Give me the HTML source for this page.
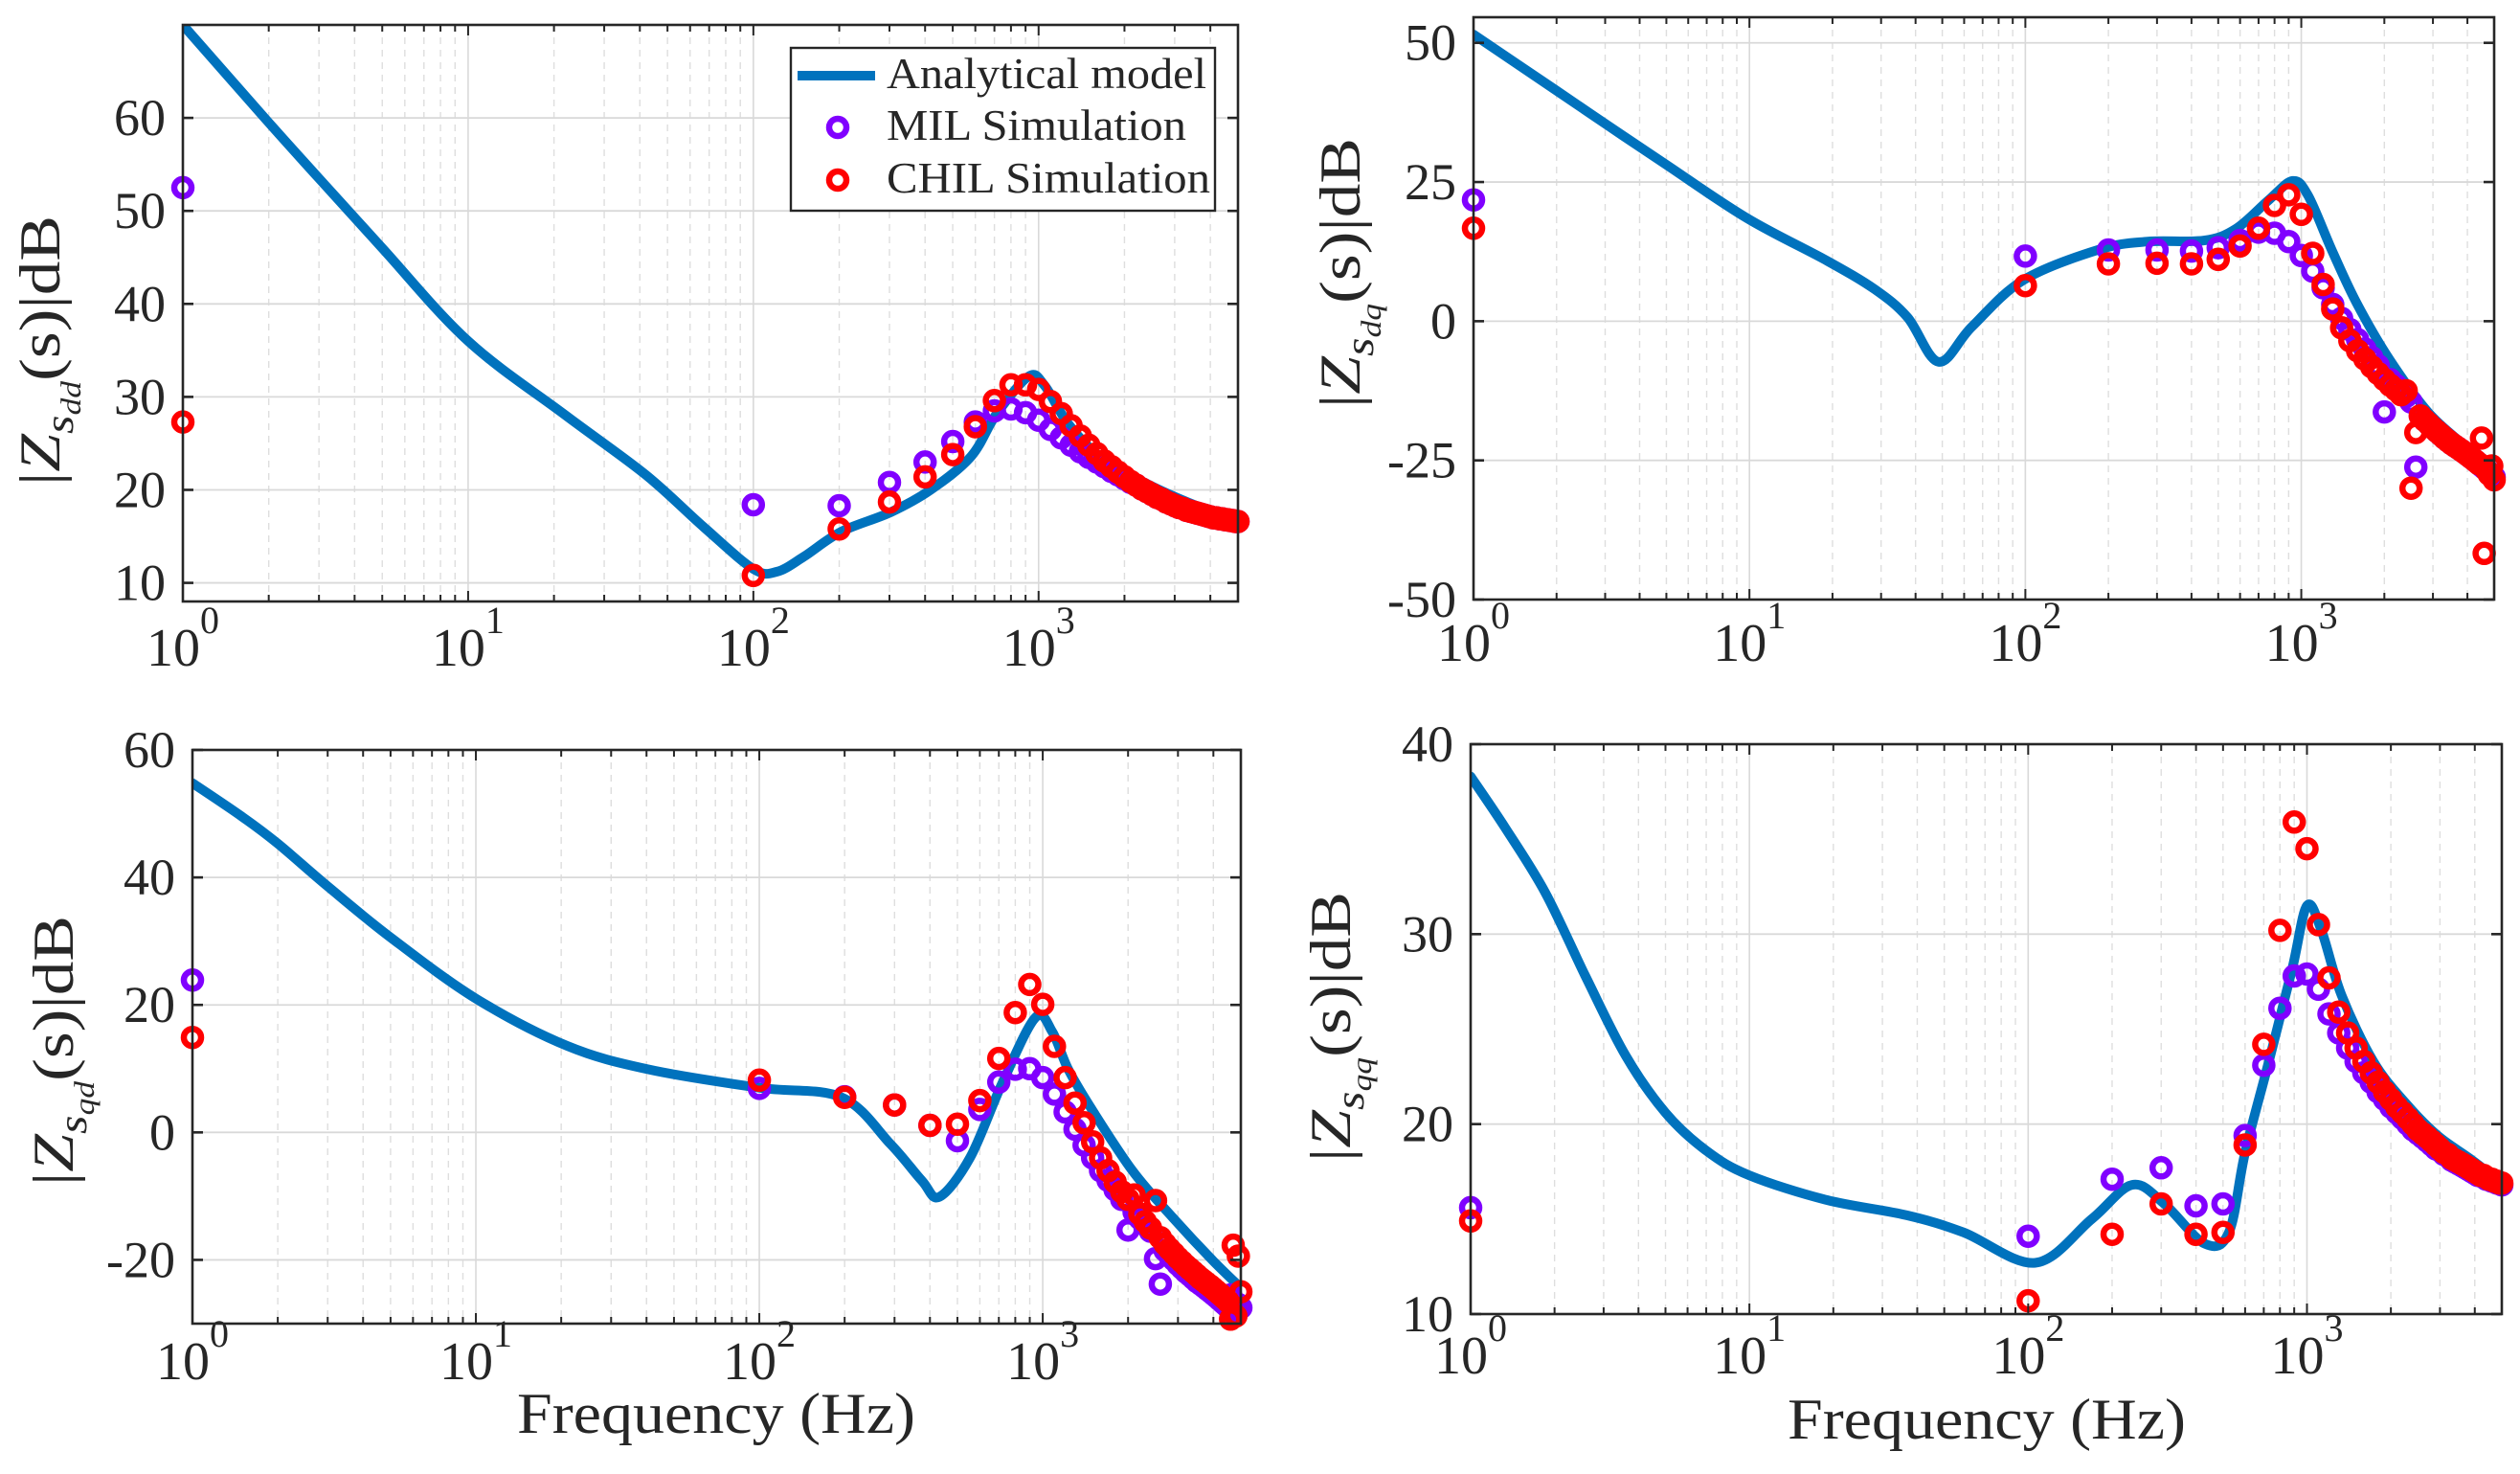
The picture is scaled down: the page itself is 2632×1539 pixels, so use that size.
<!DOCTYPE html>
<html><head><meta charset="utf-8"><style>
html,body{margin:0;padding:0;background:#fff;}
svg{display:block;}
text{font-family:"Liberation Serif",serif;fill:#262626;}
</style></head><body>
<svg id="fig" width="2632" height="1539" viewBox="0 0 2632 1539" xmlns="http://www.w3.org/2000/svg">
<rect x="0" y="0" width="2632" height="1539" fill="#fff"/>
</svg>
<script>
// measurement frequencies (Hz)
const measFreq = [1,100,200,300,400,500,600,700,800,900,1000,1100,1200,1300,1400,1500,1600,1700,1800,1900,2000,2100,2200,2300,2400,2500,2600,2700,2800,2900,3000,3100,3200,3300,3400,3500,3600,3700,3800,3900,4000,4100,4200,4300,4400,4500,4600,4700,4800,4900,5000];

// Panel 1: Z_sdd
const sddCurveF = [1,2,3,5,10,22,42,67,100,121,150,203,303,418,580,710,923,1050,1270,1640,2420,3570,5000];
const sddCurveDb = [70,59.5,53.5,46,36,28,21.6,16,11.5,11.2,12.8,15.5,17.6,20,23.6,28.1,32.2,31.2,27.1,23.6,20.6,18.3,16.8];
const sddMil = [52.5,18.4,18.3,20.8,23.0,25.2,27.3,28.5,28.7,28.3,27.5,26.5,25.6,24.8,24.1,23.5,23.0,22.5,22.0,21.6,21.2,20.8,20.5,20.1,19.8,19.5,19.2,19.0,18.7,18.5,18.3,18.1,18.0,17.8,17.7,17.6,17.5,17.4,17.3,17.2,17.1,17.0,17.0,16.9,16.9,16.8,16.8,16.7,16.7,16.6,16.6];
const sddChil = [27.3,10.8,15.8,18.7,21.4,23.8,26.8,29.6,31.3,31.3,30.8,29.5,28.2,26.9,25.8,24.8,23.9,23.1,22.5,21.9,21.4,20.9,20.5,20.1,19.8,19.5,19.2,19.0,18.7,18.5,18.3,18.1,18.0,17.8,17.7,17.6,17.5,17.4,17.3,17.2,17.1,17.0,17.0,16.9,16.9,16.8,16.8,16.7,16.7,16.6,16.6];
const sddTicks = [10,20,30,40,50,60];

// Panel 2: Z_sdq
const sdqCurveF = [1,2,3.1,5,9.8,19.2,28.5,37.4,48.5,64,98.5,186,278,445,580,760,930,1060,1300,1590,2090,2900,4000,5000];
const sdqCurveDb = [51.5,41.4,35,28.1,18.5,10.8,5.7,0.7,-7.3,-1,7.4,12.9,14.3,14.5,16.6,21.7,25.2,22.5,12.4,3.2,-6.9,-16.5,-22.8,-27.5];
const sdqMil = [21.8,11.7,12.8,12.8,12.6,13.2,14.5,16.0,15.8,14.3,11.8,9.0,6.0,3.0,0.5,-1.5,-3.3,-5.0,-6.5,-8.0,-16.3,-10.5,-11.5,-12.5,-13.5,-14.5,-26.2,-17.0,-17.8,-18.5,-19.2,-19.8,-20.4,-21.0,-21.5,-22.0,-22.4,-22.8,-23.2,-23.6,-24.0,-24.4,-24.8,-25.2,-25.6,-26.0,-26.4,-26.8,-27.2,-27.6,-28.0];
const sdqChil = [16.7,6.4,10.3,10.4,10.3,11.1,13.5,16.7,20.8,22.7,19.2,12.2,6.6,2.2,-1.2,-3.5,-5.3,-6.8,-8.2,-9.4,-10.5,-11.5,-12.3,-13.2,-12.5,-30.0,-20.0,-17.0,-17.8,-18.5,-19.2,-19.8,-20.4,-21.0,-21.5,-22.0,-22.4,-22.8,-23.2,-23.6,-24.0,-24.4,-24.8,-25.2,-25.6,-21.0,-41.7,-26.8,-27.5,-26.0,-28.5];
const sdqTicks = [-50,-25,0,25,50];

// Panel 3: Z_sqd
const sqdCurveF = [1,1.5,2,3,5,10,20.9,40.4,100,195,290,375,432,555,719,942,1080,1230,1500,2080,2880,3960,5000];
const sqdCurveDb = [54.8,49.5,45.3,38.6,30.6,21,13.6,9.9,7.0,5.5,-1.8,-7.6,-10.1,-3.9,7.7,18,15.8,9.9,3.4,-6.1,-13.4,-20,-24.4];
const sqdMil = [23.9,6.9,5.6,4.3,1.1,-1.3,3.6,7.9,9.9,10.0,8.6,6.0,3.2,0.5,-2.0,-4.0,-6.0,-7.5,-9.0,-10.5,-15.3,-12.5,-13.5,-14.5,-15.5,-19.8,-23.8,-18.5,-19.3,-20.0,-20.7,-21.3,-21.9,-22.4,-22.9,-23.4,-23.8,-24.2,-24.6,-25.0,-25.4,-25.8,-26.2,-26.6,-27.0,-27.4,-25.5,-27.5,-28.0,-27.0,-27.5];
const sqdChil = [14.9,8.2,5.5,4.3,1.1,1.3,5.0,11.6,18.8,23.2,20.1,13.5,8.6,4.6,1.5,-1.5,-4.0,-6.0,-7.8,-9.3,-10.5,-9.8,-12.8,-14.0,-15.0,-10.7,-16.5,-17.5,-18.3,-19.0,-19.7,-20.3,-20.9,-21.4,-21.9,-22.4,-22.9,-23.3,-23.7,-24.1,-24.5,-24.9,-25.3,-25.7,-26.1,-26.5,-29.3,-17.7,-28.8,-19.4,-25.0];
const sqdTicks = [-20,0,20,40,60];

// Panel 4: Z_sqq
const sqqCurveF = [1,1.33,1.85,2.58,3.6,5,7,10,19,36.7,58.6,106,169,236,308,430,525,600,730,886,1000,1127,1330,1730,2260,2940,3830,4900];
const sqqCurveDb = [38.3,35.6,32.2,27.8,23.6,20.6,18.6,17.3,16.0,15.2,14.3,12.7,15,16.8,15.8,13.7,14.3,18.5,23.3,28.2,31.5,30.2,26.8,23.3,21.1,19.4,18.2,17];
const sqqMil = [15.6,14.1,17.1,17.7,15.7,15.8,19.4,23.1,26.1,27.8,27.9,27.1,25.8,24.8,24.0,23.3,22.7,22.2,21.7,21.3,20.9,20.6,20.3,20.0,19.7,19.5,19.3,19.1,18.9,18.7,18.6,18.4,18.3,18.1,18.0,17.9,17.8,17.7,17.6,17.5,17.4,17.3,17.3,17.2,17.1,17.1,17.0,17.0,16.9,16.9,16.8];
const sqqChil = [14.9,10.7,14.2,15.8,14.2,14.3,18.9,24.2,30.2,35.9,34.5,30.5,27.7,25.9,24.8,24.0,23.3,22.7,22.2,21.7,21.3,20.9,20.6,20.3,20.0,19.7,19.5,19.3,19.1,18.9,18.7,18.5,18.4,18.2,18.1,18.0,17.9,17.8,17.7,17.6,17.5,17.4,17.3,17.3,17.2,17.1,17.1,17.0,17.0,16.9,16.9];
const sqqTicks = [10,20,30,40];

const decadeLabels = ['0','1','2','3'];
const seriesNames = ['Analytical model','MIL Simulation','CHIL Simulation'];

const NS = 'http://www.w3.org/2000/svg';
const svg = document.getElementById('fig');
function mk(tag, attrs, parent){
  const e = document.createElementNS(NS, tag);
  for (const k in attrs) e.setAttribute(k, attrs[k]);
  (parent||svg).appendChild(e);
  return e;
}
const BLUE='#0072BD', MILC='#8000FF', CHILC='#FF0000';
const MR=9, MSW=6.5;

function smoothPath(pts){
  let d = 'M'+pts[0][0].toFixed(1)+','+pts[0][1].toFixed(1);
  for (let i=0;i<pts.length-1;i++){
    const p0=pts[Math.max(0,i-1)], p1=pts[i], p2=pts[i+1], p3=pts[Math.min(pts.length-1,i+2)];
    const c1x=p1[0]+(p2[0]-p0[0])/6, c1y=p1[1]+(p2[1]-p0[1])/6;
    const c2x=p2[0]-(p3[0]-p1[0])/6, c2y=p2[1]-(p3[1]-p1[1])/6;
    d+=' C'+c1x.toFixed(1)+','+c1y.toFixed(1)+' '+c2x.toFixed(1)+','+c2y.toFixed(1)+' '+p2[0].toFixed(1)+','+p2[1].toFixed(1);
  }
  return d;
}

function drawPanel(cfg){
  const g = mk('g', {});
  
  
  const L=cfg.l, R=cfg.r, T=cfg.t, B=cfg.b;
  const lx = Math.log10(cfg.xmax);
  const xs = f => L + Math.log10(f)/lx*(R-L);
  const ys = v => B - (v-cfg.ymin)/(cfg.ymax-cfg.ymin)*(B-T);
  const cid = 'clip-'+cfg.name;
  const cp = mk('clipPath', {id:cid}, g);
  mk('rect', {x:L, y:T, width:R-L, height:B-T}, cp);
  const grid = mk('g', {}, g);
  
  
  for (let d=0; d<4; d++){
    for (let m=1; m<10; m++){
      const f = m*Math.pow(10,d);
      if (f>cfg.xmax) break;
      const x = xs(f);
      if (m===1){ if(d>0) mk('line',{x1:x,y1:T,x2:x,y2:B,stroke:'#d9d9d9','stroke-width':1.6},grid); }
      else mk('line',{x1:x,y1:T,x2:x,y2:B,stroke:'#dedede','stroke-width':1.4,'stroke-dasharray':'7,6'},grid);
    }
  }
  cfg.ticks.forEach(v=>{
    const y=ys(v);
    mk('line',{x1:L,y1:y,x2:R,y2:y,stroke:'#d9d9d9','stroke-width':1.8},grid);
  });
  const pts = cfg.cf.map((f,i)=>[xs(f), ys(cfg.cdb[i])]);
  const path = mk('path',{d:smoothPath(pts),fill:'none',stroke:BLUE,'stroke-width':10,'stroke-linejoin':'round','stroke-linecap':'round','clip-path':'url(#'+cid+')'},g);
  
  
  [[cfg.mil, MILC, 'mil'], [cfg.chil, CHILC, 'chil']].forEach(([arr,col,nm])=>{
    const mg = mk('g', {}, g);
    
    
    arr.forEach((v,i)=>{
      const c = mk('circle',{cx:xs(measFreq[i]).toFixed(1),cy:ys(v).toFixed(1),r:MR,fill:'none',stroke:col,'stroke-width':MSW},mg);
      
      
    });
  });
  const ax = mk('g', {}, g);
  
  
  mk('rect',{x:L,y:T,width:R-L,height:B-T,fill:'none',stroke:'#262626','stroke-width':2.6},ax);
  cfg.ticks.forEach(v=>{
    const y=ys(v);
    mk('line',{x1:L,y1:y,x2:L+11,y2:y,stroke:'#262626','stroke-width':2.6},ax);
    mk('line',{x1:R,y1:y,x2:R-11,y2:y,stroke:'#262626','stroke-width':2.6},ax);
    const t = mk('text',{x:L-18,y:y+18,'text-anchor':'end','font-size':54},ax);
    t.textContent = String(v);
    
    
  });
  for (let d=0; d<4; d++){
    for (let m=1; m<10; m++){
      const f=m*Math.pow(10,d); if(f>cfg.xmax) break;
      const x=xs(f), len = m===1?11:7;
      mk('line',{x1:x,y1:B,x2:x,y2:B-len,stroke:'#262626','stroke-width':2},ax);
      mk('line',{x1:x,y1:T,x2:x,y2:T+len,stroke:'#262626','stroke-width':2},ax);
    }
    const x = xs(Math.pow(10,d));
    const t = mk('text',{x:x-38,y:cfg.xlabY,'font-size':56},ax);
    t.textContent = '10';
    const s = mk('tspan',{'font-size':40,dy:-34},t);
    s.textContent = decadeLabels[d];
    
    
  }
  const yt = mk('text',{transform:'translate('+cfg.ytX+','+cfg.ytY+') rotate(-90)','text-anchor':'middle','font-size':60,textLength:282,lengthAdjust:'spacingAndGlyphs'},g);
  
  
  const parts = [['|',{}],['Z',{'font-style':'italic'}],['s',{'font-style':'italic','font-size':42,dy:14}],[cfg.sub,{'font-style':'italic','font-size':30,dy:8}],['(s)|dB',{dy:-22}]];
  parts.forEach(([txt,a])=>{ const sp=mk('tspan',a,yt); sp.textContent=txt; });
  if (cfg.freqX){
    const ft = mk('text',{x:cfg.freqX,y:cfg.freqY,'text-anchor':'middle','font-size':60,textLength:416,lengthAdjust:'spacingAndGlyphs'},g);
    ft.textContent = 'Frequency (Hz)';
    
    
  }
}

drawPanel({name:'zsdd', l:191, r:1293, t:26, b:628, ymin:8, ymax:70, xmax:5000, ticks:sddTicks, cf:sddCurveF, cdb:sddCurveDb, mil:sddMil, chil:sddChil, xlabY:695, ytX:62, ytY:366, sub:'dd'});
drawPanel({name:'zsdq', l:1539, r:2605, t:18, b:626, ymin:-50, ymax:54.6, xmax:5000, ticks:sdqTicks, cf:sdqCurveF, cdb:sdqCurveDb, mil:sdqMil, chil:sdqChil, xlabY:690, ytX:1420, ytY:285, sub:'dq'});
drawPanel({name:'zsqd', l:201, r:1296, t:783, b:1382, ymin:-30, ymax:60, xmax:5000, ticks:sqdTicks, cf:sqdCurveF, cdb:sqdCurveDb, mil:sqdMil, chil:sqdChil, xlabY:1440, ytX:76, ytY:1097, sub:'qd', freqX:748, freqY:1496});
drawPanel({name:'zsqq', l:1536, r:2613, t:777, b:1372, ymin:10, ymax:40, xmax:5000, ticks:sqqTicks, cf:sqqCurveF, cdb:sqqCurveDb, mil:sqqMil, chil:sqqChil, xlabY:1434, ytX:1410, ytY:1072, sub:'qq', freqX:2075, freqY:1502});

const lg = mk('g', {});


mk('rect',{x:826,y:50,width:443,height:170,fill:'#fff',stroke:'#262626','stroke-width':2.4},lg);
const legY = [79,133,188], legLen=[334,313,338];
mk('line',{x1:833,y1:79,x2:914,y2:79,stroke:BLUE,'stroke-width':10},lg);
mk('circle',{cx:875,cy:133,r:MR,fill:'none',stroke:MILC,'stroke-width':MSW},lg);
mk('circle',{cx:875,cy:188,r:MR,fill:'none',stroke:CHILC,'stroke-width':MSW},lg);
seriesNames.forEach((n,i)=>{
  const t = mk('text',{x:926,y:legY[i]+13,'font-size':46,textLength:legLen[i],lengthAdjust:'spacingAndGlyphs'},lg);
  t.textContent = n;
  
  
});
</script>
</body></html>
